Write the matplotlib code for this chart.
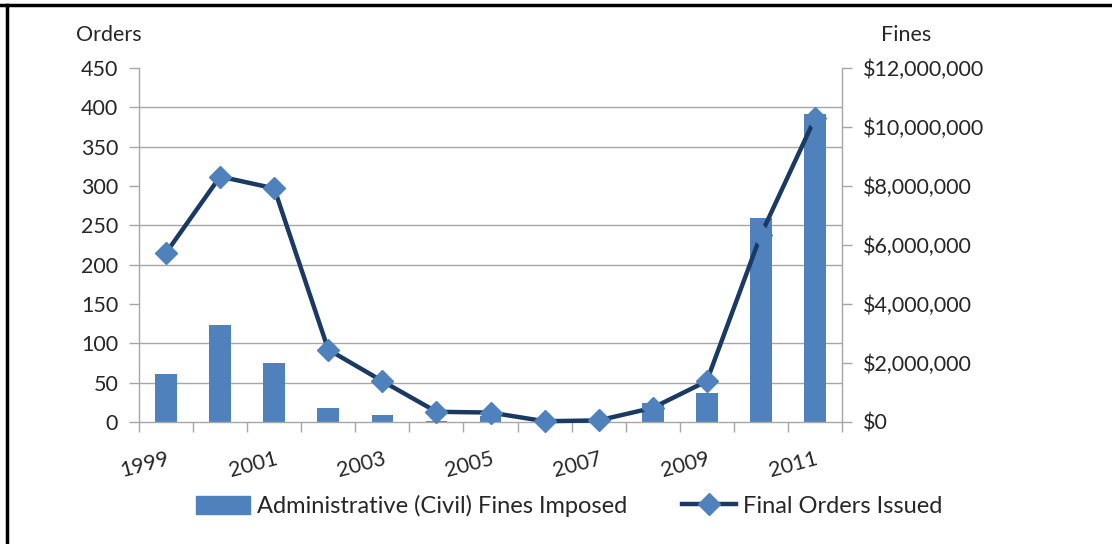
import matplotlib
matplotlib.use("Agg")
import matplotlib.pyplot as plt
from matplotlib.ticker import FuncFormatter, FixedLocator
from matplotlib.lines import Line2D
import numpy as np

years = [1999, 2000, 2001, 2002, 2003, 2004, 2005, 2006, 2007, 2008, 2009, 2010, 2011]
fines = [1.64e6, 3.28e6, 1.99e6, 0.48e6, 0.25e6, 0.03e6, 0.22e6, 0.0, 0.0, 0.64e6, 1.0e6, 6.93e6, 10.45e6]
orders = [215, 312, 297, 92, 52, 13, 12, 1, 2, 18, 52, 238, 386]
order_ticks = list(range(0, 451, 50))
fine_ticks = [0, 2e6, 4e6, 6e6, 8e6, 10e6, 12e6]
label_years = [1999, 2001, 2003, 2005, 2007, 2009, 2011]

BAR = '#4F81BD'
LINE = '#1B3A63'
GRID = '#A6A6A6'
TXT = '#262626'
FONT = 'Lato'
FS = 15.5
LFS = 17

plt.rcParams['font.family'] = [FONT, 'DejaVu Sans']

fig = plt.figure(figsize=(11.12, 5.44), dpi=100)
ax_f = fig.add_axes([139/1112, 1-422/544, (842-139)/1112, (422-68)/544])
ax_o = ax_f.twinx()

x = np.arange(len(years))
ax_f.bar(x, fines, width=0.4, color=BAR, zorder=2)
ax_f.set_ylim(0, 12e6)
ax_f.set_xlim(-0.5, len(years)-0.5)

# gridlines on the bottom (fines) axes aligned with the order ticks
ax_f.yaxis.set_minor_locator(FixedLocator([t/450*12e6 for t in order_ticks]))
ax_f.grid(axis='y', which='minor', color=GRID, lw=1.0, zorder=0)
ax_f.set_axisbelow(True)
ax_f.tick_params(axis='y', which='minor', length=0)

ax_f.yaxis.tick_right()
ax_f.set_yticks(fine_ticks)
ax_f.yaxis.set_major_formatter(FuncFormatter(lambda v, p: '${:,.0f}'.format(v)))
ax_f.tick_params(axis='y', which='major', direction='out', length=7, width=1, color=GRID,
                 labelsize=FS, labelcolor=TXT, pad=8)

# x axis: ticks at category boundaries, labels every other year
ax_f.set_xticks(np.arange(-0.5, len(years), 1.0))
ax_f.set_xticklabels([])
ax_f.tick_params(axis='x', which='major', direction='out', length=7, width=1, color=GRID)
pos = [years.index(y) for y in label_years]
ax_f.set_xticks(pos, minor=True)
ax_f.set_xticklabels([str(y) for y in label_years], minor=True, rotation=15,
                     ha='right', va='top', rotation_mode='anchor', fontsize=FS, color=TXT)
ax_f.tick_params(axis='x', which='minor', length=0, pad=19)

for s in ['left', 'right', 'bottom']:
    ax_f.spines[s].set_color(GRID)
    ax_f.spines[s].set_linewidth(1.0)
ax_f.spines['top'].set_visible(False)

# orders line on top
ax_o.plot(x, orders, color=LINE, lw=3.2, marker='D', markersize=11,
          markerfacecolor=BAR, markeredgecolor=BAR, zorder=3, clip_on=False)
ax_o.set_ylim(0, 450)
ax_o.yaxis.tick_left()
ax_o.set_yticks(order_ticks)
ax_o.tick_params(axis='y', direction='out', length=7, width=1, color=GRID,
                 labelsize=FS, labelcolor=TXT, pad=8)
for s in ax_o.spines.values():
    s.set_visible(False)
ax_o.patch.set_visible(False)

fig.text(109/1112, 1-35/544, 'Orders', ha='center', va='center', fontsize=FS, color=TXT)
fig.text(906/1112, 1-35/544, 'Fines', ha='center', va='center', fontsize=FS, color=TXT)

# legend
h_bar = plt.Rectangle((0, 0), 1, 1, color=BAR)
h_line = Line2D([], [], color=LINE, lw=3.2, marker='D', markersize=11,
                markerfacecolor=BAR, markeredgecolor=BAR)
fig.legend([h_bar, h_line], ['Administrative (Civil) Fines Imposed', 'Final Orders Issued'],
           loc='center', bbox_to_anchor=(569/1112, 1-506/544), ncol=2, frameon=False,
           fontsize=LFS, handlelength=2.3, handleheight=0.8, handletextpad=0.3,
           columnspacing=2.3, labelcolor=TXT)

# frame lines (top and left only)
fig.add_artist(Line2D([0, 1], [1-5/544, 1-5/544], color='black', lw=2.5, transform=fig.transFigure))
fig.add_artist(Line2D([7/1112, 7/1112], [0, 1-5/544], color='black', lw=2.5, transform=fig.transFigure))

fig.savefig('out.png', dpi=100, facecolor='white')
